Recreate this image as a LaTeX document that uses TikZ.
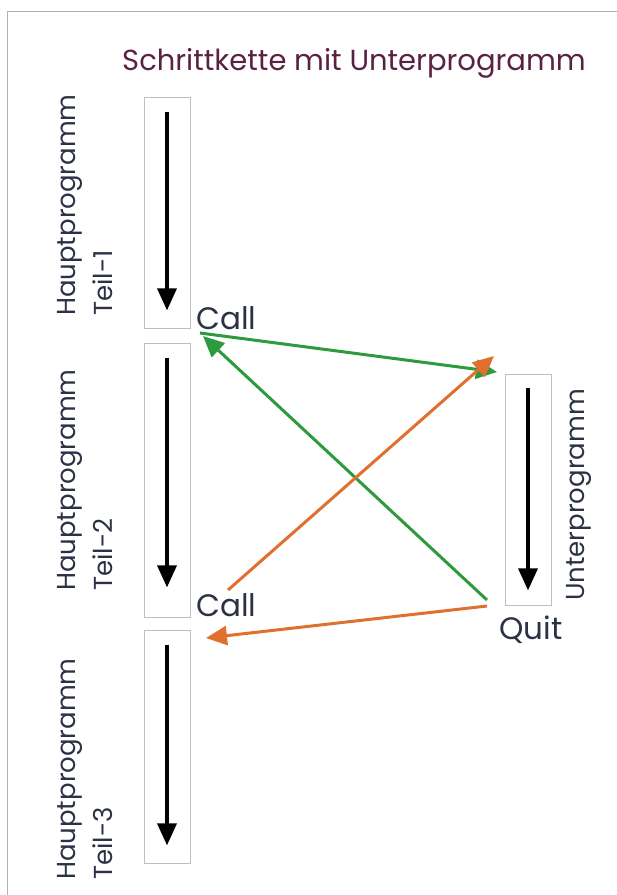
\documentclass[tikz,border=0pt]{standalone}
\usepackage{fontspec}
\setmainfont{Poppins}
\usetikzlibrary{arrows.meta}
\definecolor{titlecol}{HTML}{5A2242}
\definecolor{labelcol}{HTML}{2B3245}
\definecolor{callgreen}{HTML}{2E9A3E}
\definecolor{quitorange}{HTML}{E07030}
\tikzset{
  progbox/.style={draw=gray!50, line width=0.8pt, minimum width=46pt, inner sep=0pt},
  flow/.style={line width=3.5pt, -{Triangle[length=22pt,width=19pt]}},
  jump/.style={line width=3pt, -{Triangle[length=21pt,width=19pt]}},
  sidelabel/.style={rotate=90, align=left, anchor=north west, inner sep=0pt,
    text=labelcol, font=\fontsize{26}{37}\selectfont},
  calllabel/.style={anchor=west, inner sep=0pt, text=labelcol, font=\fontsize{31}{34}\selectfont},
}
\begin{document}
\begin{tikzpicture}[x=1pt,y=-1pt]
\useasboundingbox (0,0) rectangle (617,895);
\draw[gray!60, line width=1pt] (7,895) -- (7,11) -- (617,11);
\node[text=titlecol, font=\fontsize{29}{32}\selectfont] (title) at (354,63) {Schrittkette mit Unterprogramm};

% Hauptprogramm
\node[progbox, minimum height=231pt] (teil1) at (167,212.5) {};
\node[progbox, minimum height=274pt] (teil2) at (167,480) {};
\node[progbox, minimum height=233pt] (teil3) at (167,746.5) {};
\draw[flow] ([yshift=-15pt]teil1.north) -- ([yshift=18pt]teil1.south);
\draw[flow] ([yshift=-15pt]teil2.north) -- ([yshift=30pt]teil2.south);
\draw[flow] ([yshift=-15pt]teil3.north) -- ([yshift=18pt]teil3.south);
\node[sidelabel] (lbl1) at (57,316) {Hauptprogramm\\Teil-1};
\node[sidelabel] (lbl2) at (57,591) {Hauptprogramm\\Teil-2};
\node[sidelabel] (lbl3) at (57,880) {Hauptprogramm\\Teil-3};

% Unterprogramm
\node[progbox, minimum height=231pt] (unter) at (528,489.5) {};
\draw[flow] ([yshift=-14pt]unter.north) -- ([yshift=15pt]unter.south);
\node[sidelabel] (lblu) at (566,601) {Unterprogramm};

\node[calllabel] (call1) at (196,318) {Call};
\node[calllabel] (call2) at (196,605) {Call};
\node[calllabel] (quit) at (499,630) {Quit};

\coordinate (c1out) at (200,333);
\coordinate (c1back) at (203,336);
\coordinate (c2out) at (228,590);
\coordinate (c2back) at (206,638);
\coordinate (uin1) at (497,372);
\coordinate (uin2) at (494,356);
\coordinate (qout1) at (487,600);
\coordinate (qout2) at (487,606);
\draw[jump, callgreen] (c1out) -- (uin1);
\draw[jump, callgreen] (qout1) -- (c1back);
\draw[jump, quitorange] (c2out) -- (uin2);
\draw[jump, quitorange] (qout2) -- (c2back);
\end{tikzpicture}
\end{document}
